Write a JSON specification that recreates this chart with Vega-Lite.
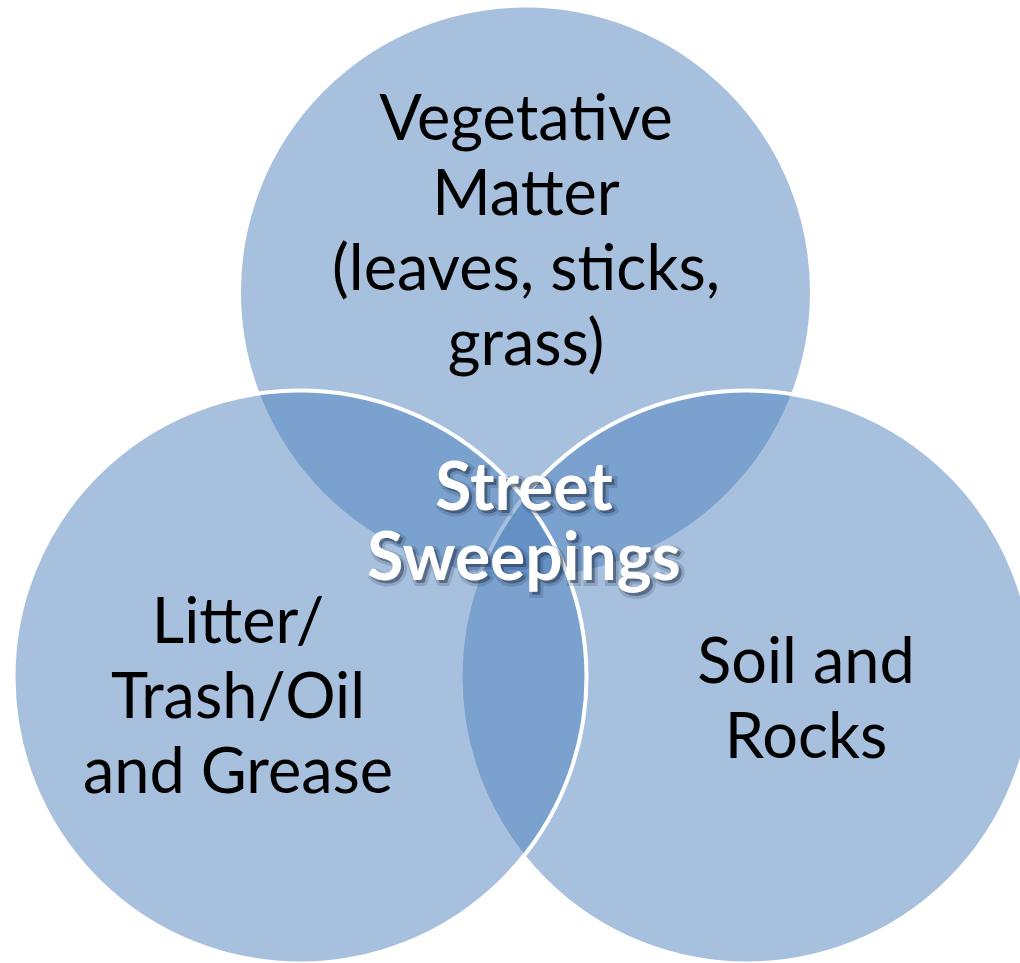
{
  "$schema": "https://vega.github.io/schema/vega-lite/v6.json",
  "width": 1020,
  "height": 963,
  "autosize": {"type": "none"},
  "padding": 0,
  "background": "white",
  "config": {"view": {"stroke": null}},
  "layer": [
    {
      "data": {"values": [
        {"set": "Vegetative Matter", "cx": 525.5, "cy": 292, "r": 286.5},
        {"set": "Soil and Rocks", "cx": 747, "cy": 677, "r": 286.5},
        {"set": "Litter/Trash/Oil and Grease", "cx": 300, "cy": 677, "r": 286.5}
      ]},
      "mark": {"type": "point", "shape": "circle", "filled": true, "fill": "#4F81BD", "fillOpacity": 0.5, "stroke": "white", "strokeWidth": 4, "strokeOpacity": 1, "opacity": 1},
      "encoding": {
        "x": {"field": "cx", "type": "quantitative", "scale": {"domain": [0, 1020], "nice": false, "zero": false}, "axis": null},
        "y": {"field": "cy", "type": "quantitative", "scale": {"domain": [0, 963], "nice": false, "zero": false, "reverse": true}, "axis": null},
        "size": {"field": "r", "type": "quantitative", "scale": {"type": "pow", "exponent": 2, "domain": [0, 286.5], "range": [0, 328329]}, "legend": null}
      }
    },
    {
      "data": {"values": [
        {"label": "Vegetative\nMatter\n(leaves, sticks,\ngrass)", "x": 526, "y": 140},
        {"label": "Litter/\nTrash/Oil\nand Grease", "x": 238, "y": 643},
        {"label": "Soil and\nRocks", "x": 806, "y": 683}
      ]},
      "mark": {"type": "text", "font": "Lato", "fontSize": 63, "color": "black", "align": "center", "baseline": "alphabetic", "lineBreak": "\n", "lineHeight": 75},
      "encoding": {
        "x": {"field": "x", "type": "quantitative", "scale": {"domain": [0, 1020], "nice": false, "zero": false}, "axis": null},
        "y": {"field": "y", "type": "quantitative", "scale": {"domain": [0, 963], "nice": false, "zero": false, "reverse": true}, "axis": null},
        "text": {"field": "label"}
      }
    },
    {
      "data": {"values": [
        {"label": "Street\nSweepings", "x": 524, "y": 510}
      ]},
      "mark": {"type": "text", "font": "Lato", "fontSize": 66, "fontWeight": "bold", "fill": "#1c2a40", "fillOpacity": 0.45, "stroke": "#1c2a40", "strokeWidth": 6, "strokeOpacity": 0.18, "align": "center", "baseline": "alphabetic", "lineBreak": "\n", "lineHeight": 70, "dx": 3, "dy": 3},
      "encoding": {
        "x": {"field": "x", "type": "quantitative", "scale": {"domain": [0, 1020], "nice": false, "zero": false}, "axis": null},
        "y": {"field": "y", "type": "quantitative", "scale": {"domain": [0, 963], "nice": false, "zero": false, "reverse": true}, "axis": null},
        "text": {"field": "label"}
      }
    },
    {
      "data": {"values": [
        {"label": "Street\nSweepings", "x": 524, "y": 510}
      ]},
      "mark": {"type": "text", "font": "Lato", "fontSize": 66, "fontWeight": "bold", "fill": "white", "align": "center", "baseline": "alphabetic", "lineBreak": "\n", "lineHeight": 70},
      "encoding": {
        "x": {"field": "x", "type": "quantitative", "scale": {"domain": [0, 1020], "nice": false, "zero": false}, "axis": null},
        "y": {"field": "y", "type": "quantitative", "scale": {"domain": [0, 963], "nice": false, "zero": false, "reverse": true}, "axis": null},
        "text": {"field": "label"}
      }
    }
  ]
}
